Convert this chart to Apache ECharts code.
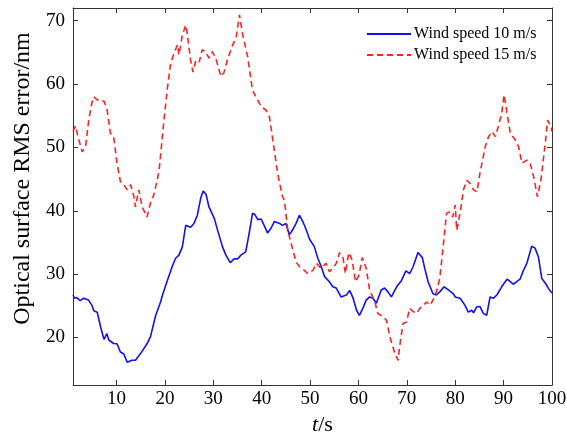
<!DOCTYPE html>
<html>
<head>
<meta charset="utf-8">
<script src="https://cdn.jsdelivr.net/npm/echarts@6/dist/echarts.min.js"></script>
<style>
html,body{margin:0;padding:0;background:#fff;}
#chart{width:567px;height:435px;}
</style>
</head>
<body>
<div id="chart"></div>
<script>
// Series names
var seriesNames = ['Wind speed 10 m/s', 'Wind speed 15 m/s'];
// Tick labels
var xTicks = [10, 20, 30, 40, 50, 60, 70, 80, 90, 100];
var yTicks = [20, 30, 40, 50, 60, 70];

// Wind speed 10 m/s: time (s)
var t10 = [1, 1.3, 1.8, 2.5, 3.2, 4.2, 4.9, 5.3, 6.0, 6.7, 7.4, 8.0, 8.4, 9.4, 10.1, 10.8, 11.5, 12.2, 13.2, 13.9,
  15.0, 16.3, 17.0, 18.1, 19.1, 19.5, 20.5, 21.5, 22.2, 22.9, 23.6, 24.3, 24.6, 25.3, 26.0, 26.7, 27.4, 27.9, 28.5, 29.1,
  30.2, 30.9, 31.9, 32.6, 33.5, 34.3, 35.0, 35.7, 36.7, 37.4, 38.1, 38.6, 39.2, 39.9, 40.5, 41.2, 41.9, 42.6, 43.7, 44.3,
  45.0, 45.7, 46.4, 47.1, 47.8, 48.5, 49.2, 49.9, 50.9, 51.6, 52.3, 53.0, 54.0, 54.7, 55.4, 56.4, 57.5, 58.2, 58.9, 59.6,
  60.2, 60.9, 61.6, 62.3, 63.0, 63.7, 64.7, 65.4, 66.1, 66.8, 67.9, 68.9, 69.8, 70.6, 71.3, 72.3, 73.2, 73.7, 74.4, 75.4,
  76.1, 76.8, 77.7, 78.6, 79.6, 80.0, 81.0, 82.0, 82.7, 83.4, 83.8, 84.4, 85.1, 85.8, 86.5, 87.2, 87.9, 88.6, 89.6, 90.7,
  91.4, 92.0, 92.7, 93.4, 94.1, 94.8, 95.8, 96.5, 97.2, 97.9, 98.6, 99.3, 100];
// Wind speed 10 m/s: RMS error (nm)
var v10 = [26.7, 26.2, 26.3, 25.8, 26.2, 25.9, 25.1, 24.2, 24.0, 21.7, 19.7, 20.6, 19.6, 19.05, 19.0, 17.7, 17.4, 16.1, 16.4, 16.4,
  17.5, 19.0, 20.1, 23.5, 25.6, 26.7, 29.0, 31.2, 32.5, 33.0, 34.3, 37.7, 38.0, 37.4, 38.0, 39.3, 42.0, 43.1, 42.6, 40.6,
  38.8, 36.9, 34.3, 33.0, 31.8, 32.4, 32.4, 33.0, 33.5, 36.4, 39.6, 39.4, 38.6, 38.7, 37.7, 36.5, 37.2, 38.3, 38.0, 37.7,
  38.0, 36.2, 37.0, 38.0, 39.3, 38.3, 37.0, 35.5, 34.3, 32.5, 31.2, 29.6, 28.8, 28.0, 27.8, 26.4, 26.7, 27.4, 26.2, 24.3,
  23.5, 24.6, 25.9, 26.4, 26.2, 25.4, 27.5, 27.8, 27.2, 26.4, 28.0, 29.0, 30.5, 30.1, 31.2, 33.4, 32.6, 30.9, 28.8, 26.9,
  26.7, 27.2, 28.0, 27.5, 26.9, 26.4, 26.2, 25.1, 24.0, 24.3, 23.9, 24.8, 24.9, 23.8, 23.5, 26.4, 26.2, 26.7, 28.0, 29.2,
  28.8, 28.4, 28.8, 29.2, 30.6, 31.7, 34.4, 34.1, 32.7, 29.3, 28.6, 27.7, 27.0];

// Wind speed 15 m/s: time (s)
var t15 = [1, 1.5, 2.2, 2.9, 3.6, 4.25, 4.9, 5.3, 6.0, 6.7, 7.4, 8.0, 8.75, 9.4, 10.1, 10.8, 11.5, 12.2, 12.9, 13.6,
  13.9, 14.6, 15.3, 16.3, 17.0, 17.7, 18.4, 18.8, 19.8, 20.5, 21.2, 21.9, 22.6, 22.9, 23.6, 24.3, 24.6, 25.3, 25.8, 26.4,
  27.1, 27.7, 28.4, 29.1, 29.8, 30.5, 31.2, 31.6, 32.2, 32.9, 34.0, 34.7, 35.4, 36.1, 37.1, 38.1, 38.8, 39.9, 40.9, 41.6,
  42.3, 43.3, 44.3, 44.7, 45.4, 46.1, 47.1, 47.8, 48.8, 49.5, 50.6, 51.3, 52.3, 53.3, 54.0, 54.7, 55.4, 56.1, 56.8, 57.3,
  58.0, 58.7, 59.4, 60.1, 60.8, 61.6, 62.3, 63.4, 64.0, 65.1, 65.8, 66.5, 67.5, 68.2, 68.5, 69.2, 69.9, 70.6, 71.3, 72.0,
  72.7, 73.4, 74.1, 74.8, 75.4, 76.1, 76.8, 77.5, 78.2, 78.9, 79.5, 80.0, 80.3, 81.0, 81.7, 82.4, 83.1, 83.8, 84.5, 85.1,
  86.2, 86.9, 87.6, 88.3, 88.9, 89.6, 90.1, 90.7, 91.4, 92.4, 93.1, 93.8, 94.8, 95.5, 96.2, 97.0, 97.7, 98.6, 99.1, 99.8, 100];
// Wind speed 15 m/s: RMS error (nm)
var v15 = [52.5, 53.4, 51.2, 49.3, 50.1, 54.3, 57.0, 58.0, 57.5, 57.3, 57.3, 56.2, 52.2, 51.7, 47.5, 44.6, 44.1, 43.3, 44.1, 42.2,
  40.6, 43.3, 40.6, 39.0, 41.2, 42.5, 44.8, 46.4, 54.3, 59.3, 63.3, 64.9, 66.2, 64.6, 67.7, 69.3, 68.0, 63.8, 61.9, 63.8,
  63.5, 65.4, 65.1, 64.1, 65.1, 64.1, 62.2, 61.2, 61.8, 63.8, 66.2, 67.2, 70.9, 67.7, 64.3, 59.0, 58.0, 56.4, 55.9, 54.8,
  51.2, 45.9, 42.2, 41.7, 36.9, 34.8, 31.9, 31.2, 30.6, 30.1, 30.6, 31.7, 30.9, 31.7, 30.4, 30.9, 31.7, 33.4, 32.6, 30.1,
  33.4, 32.2, 28.8, 29.8, 32.6, 30.9, 27.5, 25.6, 23.8, 23.3, 22.7, 20.1, 17.5, 16.4, 18.5, 22.2, 22.4, 24.6, 24.1, 23.8,
  24.6, 25.1, 25.6, 25.1, 25.9, 27.2, 29.3, 34.3, 39.6, 39.8, 39.0, 40.9, 36.9, 39.6, 43.3, 44.8, 44.3, 43.3, 43.0, 45.9,
  50.1, 51.7, 52.5, 51.7, 53.3, 55.4, 58.3, 55.4, 52.2, 51.2, 50.1, 47.5, 48.0, 47.5, 45.4, 42.2, 44.8, 50.6, 54.3, 53.3, 52.5];

function pairs(ts, vs) {
  var out = [];
  for (var i = 0; i < ts.length; i++) out.push([ts[i], vs[i]]);
  return out;
}

var FONT = '"Liberation Serif", "Times New Roman", serif';
var AX = '#333';

var chart = echarts.init(document.getElementById('chart'), null, {renderer: 'canvas'});
chart.setOption({
  animation: false,
  backgroundColor: '#fff',
  textStyle: {fontFamily: FONT, color: '#000'},
  grid: {left: 73, right: 15, top: 8, bottom: 50, containLabel: false, outerBoundsMode: 'none'},
  legend: {
    orient: 'vertical',
    left: 366,
    top: 26,
    padding: 0,
    itemWidth: 44,
    itemHeight: 14,
    itemGap: 5,
    itemStyle: {opacity: 0},
    textStyle: {fontFamily: FONT, fontSize: 16, color: '#000', padding: [0, 0, 0, -2]},
    data: seriesNames
  },
  xAxis: [{
    type: 'value', min: 1, max: 100,
    name: '{i|t}/s', nameLocation: 'middle', nameGap: 28,
    nameTextStyle: {fontFamily: FONT, fontSize: 22, color: '#000', padding: [0, 0, 0, 20],
      rich: {i: {fontFamily: FONT, fontSize: 22, fontStyle: 'italic', color: '#000'}}},
    axisLine: {show: true, onZero: false, lineStyle: {color: AX, width: 1}},
    axisTick: {show: true, inside: true, length: 5, customValues: xTicks, lineStyle: {color: AX}},
    axisLabel: {show: true, customValues: xTicks, margin: 5, fontFamily: FONT, fontSize: 19, color: '#000'},
    splitLine: {show: false}
  }, {
    type: 'value', min: 1, max: 100, position: 'top',
    axisLine: {show: true, onZero: false, lineStyle: {color: AX, width: 1}},
    axisTick: {show: true, inside: true, length: 5, customValues: xTicks, lineStyle: {color: AX}},
    axisLabel: {show: false},
    splitLine: {show: false}
  }],
  yAxis: [{
    type: 'value', min: 12.5, max: 72,
    name: 'Optical surface RMS error/nm', nameLocation: 'middle', nameGap: 38, nameRotate: 90,
    nameTextStyle: {fontFamily: FONT, fontSize: 24, color: '#000', padding: [0, 0, 0, 36]},
    axisLine: {show: true, onZero: false, lineStyle: {color: AX, width: 1}},
    axisTick: {show: true, inside: true, length: 5, customValues: yTicks, lineStyle: {color: AX}},
    axisLabel: {show: true, customValues: yTicks, margin: 8, fontFamily: FONT, fontSize: 19, color: '#000'},
    splitLine: {show: false}
  }, {
    type: 'value', min: 12.5, max: 72, position: 'right',
    axisLine: {show: true, onZero: false, lineStyle: {color: AX, width: 1}},
    axisTick: {show: true, inside: true, length: 5, customValues: yTicks, lineStyle: {color: AX}},
    axisLabel: {show: false},
    splitLine: {show: false}
  }],
  series: [{
    name: seriesNames[0], type: 'line', xAxisIndex: 0, yAxisIndex: 0,
    data: pairs(t10, v10), showSymbol: false, symbol: 'none',
    lineStyle: {color: '#1010f0', width: 1.6},
    itemStyle: {color: '#1010f0'}
  }, {
    name: seriesNames[1], type: 'line', xAxisIndex: 0, yAxisIndex: 0,
    data: pairs(t15, v15), showSymbol: false, symbol: 'none',
    lineStyle: {color: '#ff2020', width: 1.6, type: [6, 4]},
    itemStyle: {color: '#ff2020'}
  }]
});
</script>
</body>
</html>
